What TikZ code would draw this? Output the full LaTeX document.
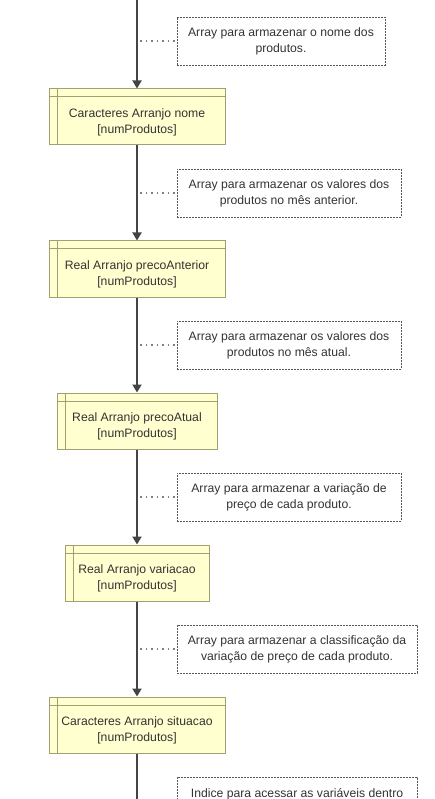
\documentclass[tikz,border=0pt]{standalone}
\usepackage{fontspec}
\setmainfont{Liberation Sans}
\usetikzlibrary{arrows.meta}
\definecolor{boxfill}{HTML}{FFFFD0}
\definecolor{boxdraw}{HTML}{A0A070}
\definecolor{txt}{HTML}{333333}
\definecolor{flow}{HTML}{444444}
\definecolor{notec}{HTML}{555555}
\definecolor{dotc}{HTML}{808080}
\begin{document}
\begin{tikzpicture}[x=1pt,y=-1pt,
  font=\fontsize{12.2}{16}\selectfont,
  arraybox/.style={draw=boxdraw, fill=boxfill, line width=1pt, minimum height=56pt, inner sep=0pt,
    path picture={
      \draw[boxdraw,line width=1pt] ([xshift=8pt]path picture bounding box.north west) -- ([xshift=8pt]path picture bounding box.south west);
      \draw[boxdraw,line width=1pt] ([yshift=-8pt]path picture bounding box.north west) -- ([yshift=-8pt]path picture bounding box.north east);}},
  boxtext/.style={text=txt, align=center, inner sep=0pt},
  notebox/.style={draw=notec, line width=0.7pt, dash pattern=on 2pt off 1pt, minimum height=48pt, inner sep=0pt, text=txt, align=center},
  flowline/.style={draw=flow, line width=2pt, -{Triangle[length=8pt,width=9pt]}},
  plainflow/.style={draw=flow, line width=2pt},
  dotline/.style={draw=dotc, line width=1.5pt, dash pattern=on 1.5pt off 4pt}
]
\useasboundingbox (0,0) rectangle (435,799);
\clip (0,0) rectangle (435,799);

% array boxes
\node[arraybox, minimum width=176pt] (b1) at (137,117) {};
\node[boxtext] (t1) at (137,122) {Caracteres Arranjo nome\\{}[numProdutos]};
\node[arraybox, minimum width=176pt] (b2) at (137,269) {};
\node[boxtext] (t2) at (137,274) {Real Arranjo precoAnterior\\{}[numProdutos]};
\node[arraybox, minimum width=160pt] (b3) at (137,421) {};
\node[boxtext] (t3) at (137,426) {Real Arranjo precoAtual\\{}[numProdutos]};
\node[arraybox, minimum width=144pt] (b4) at (137,573) {};
\node[boxtext] (t4) at (137,578) {Real Arranjo variacao\\{}[numProdutos]};
\node[arraybox, minimum width=176pt] (b5) at (137,725) {};
\node[boxtext] (t5) at (137,730) {Caracteres Arranjo situacao\\{}[numProdutos]};

% notes
\node[notebox, minimum width=208pt] (c1) at (281,41) {Array para armazenar o nome dos\\produtos.};
\node[notebox, minimum width=224pt] (c2) at (289,193) {Array para armazenar os valores dos\\produtos no mês anterior.};
\node[notebox, minimum width=224pt] (c3) at (289,345) {Array para armazenar os valores dos\\produtos no mês atual.};
\node[notebox, minimum width=224pt] (c4) at (289,497) {Array para armazenar a variação de\\preço de cada produto.};
\node[notebox, minimum width=240pt] (c5) at (297,649) {Array para armazenar a classificação da\\variação de preço de cada produto.};
\node[notebox, minimum width=240pt, minimum height=48pt] (c6) at (297,801) {};
\node[boxtext] (t6) at (297,794) {Indice para acessar as variáveis dentro};

% flow line
\coordinate (top) at (137,-2);
\coordinate (bottom) at (137,802);
\draw[flowline] (top) -- (b1.north);
\draw[flowline] (b1.south) -- (b2.north);
\draw[flowline] (b2.south) -- (b3.north);
\draw[flowline] (b3.south) -- (b4.north);
\draw[flowline] (b4.south) -- (b5.north);
\draw[plainflow] (b5.south) -- (bottom);

% dotted connectors
\coordinate (d1) at (140,41);
\coordinate (d2) at (140,193);
\coordinate (d3) at (140,345);
\coordinate (d4) at (140,497);
\coordinate (d5) at (140,649);
\draw[dotline] (d1) -- (c1.west);
\draw[dotline] (d2) -- (c2.west);
\draw[dotline] (d3) -- (c3.west);
\draw[dotline] (d4) -- (c4.west);
\draw[dotline] (d5) -- (c5.west);
\end{tikzpicture}
\end{document}
